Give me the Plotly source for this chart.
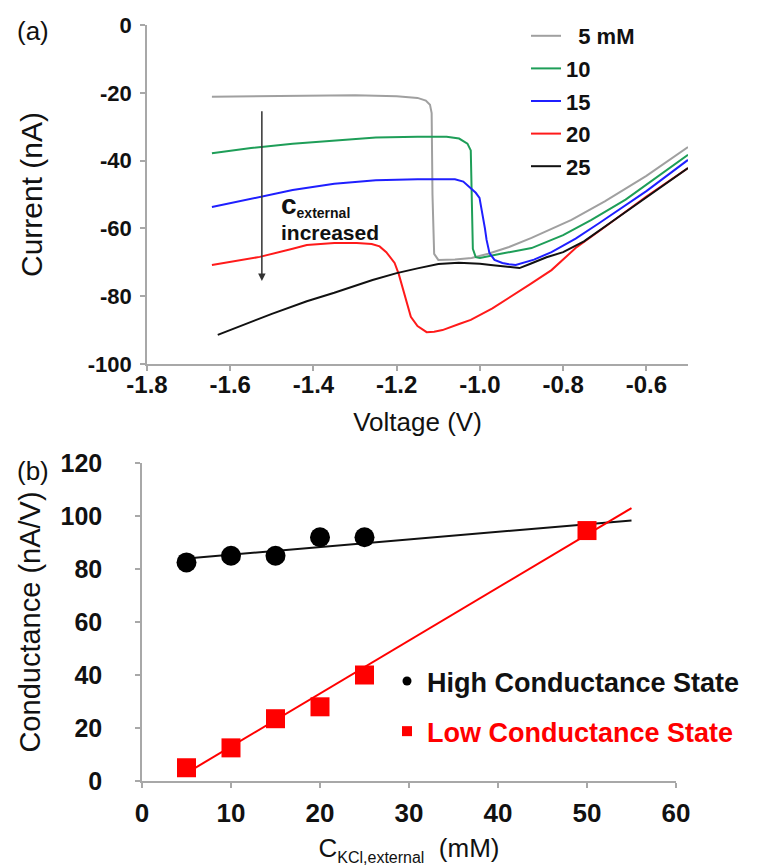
import plotly.graph_objects as go

# ---------------- Panel (a): I-V curves ----------------
V_5 = [-1.644, -1.5, -1.4, -1.3, -1.2, -1.15, -1.13, -1.12, -1.116, -1.114, -1.11, -1.10,
       -1.06, -1.02, -0.98, -0.93, -0.876, -0.78, -0.70, -0.60, -0.50]
I_5 = [-21.2, -21.0, -20.8, -20.7, -21.0, -21.5, -22.3, -23.5, -26.0, -50.0, -67.5, -69.3,
       -69.2, -68.7, -67.5, -65.5, -62.8, -57.5, -52.0, -44.5, -36.0]

V_10 = [-1.644, -1.55, -1.45, -1.35, -1.25, -1.15, -1.08, -1.05, -1.03, -1.022, -1.019, -1.017,
        -1.01, -1.0, -0.95, -0.876, -0.80, -0.732, -0.65, -0.5]
I_10 = [-37.8, -36.3, -35.0, -34.0, -33.2, -33.0, -33.0, -33.5, -35.0, -37.0, -50.0, -66.0,
        -68.5, -68.7, -67.5, -65.8, -62.0, -57.5, -51.5, -38.3]

V_15 = [-1.644, -1.55, -1.45, -1.35, -1.25, -1.15, -1.06, -1.04, -1.025, -1.01, -1.001, -0.994,
        -0.988, -0.984, -0.977, -0.965, -0.946, -0.93, -0.914, -0.87, -0.828, -0.77, -0.713,
        -0.6, -0.5]
I_15 = [-53.7, -51.2, -48.7, -46.8, -45.8, -45.5, -45.5, -46.2, -47.8, -49.5, -51.0, -55.5,
        -60.0, -63.4, -67.3, -69.3, -70.2, -70.6, -70.8, -69.2, -67.0, -63.0, -58.4,
        -49.0, -39.8]

V_20 = [-1.644, -1.6, -1.529, -1.45, -1.416, -1.35, -1.296, -1.26, -1.241, -1.225, -1.205,
        -1.195, -1.186, -1.176, -1.166, -1.15, -1.128, -1.11, -1.09, -1.05, -1.022, -0.97,
        -0.926, -0.88, -0.828, -0.77, -0.7, -0.6, -0.5]
I_20 = [-70.8, -69.8, -68.4, -66.0, -64.9, -64.3, -64.3, -64.6, -65.3, -67.0, -70.2,
        -73.5, -77.3, -82.0, -86.1, -88.8, -90.6, -90.5, -90.0, -88.2, -87.0, -83.6,
        -80.2, -76.5, -72.3, -65.8, -59.6, -50.6, -42.2]

V_25 = [-1.63, -1.55, -1.5, -1.416, -1.35, -1.258, -1.2, -1.15, -1.128, -1.1, -1.051, -1.0,
        -0.974, -0.94, -0.905, -0.88, -0.84, -0.8, -0.75, -0.684, -0.6, -0.5]
I_25 = [-91.4, -87.5, -85.2, -81.5, -79.0, -75.2, -73.2, -71.8, -71.2, -70.5, -70.1, -70.4,
        -70.8, -71.2, -71.7, -70.5, -68.5, -67.0, -63.8, -58.1, -50.8, -42.2]

CURVE_NAMES = ["\u20075 mM", "10", "15", "20", "25"]
CURVE_COLORS = ["#a0a0a0", "#1e9e58", "#1f1fff", "#ff1a1a", "#111111"]

V_TICKS = [-1.8, -1.6, -1.4, -1.2, -1.0, -0.8, -0.6]
V_TICK_TEXT = ["-1.8", "-1.6", "-1.4", "-1.2", "-1.0", "-0.8", "-0.6"]
I_TICKS = [0, -20, -40, -60, -80, -100]
I_TICK_TEXT = ["0", "-20", "-40", "-60", "-80", "-100"]

# arrow "c_external increased"
ARROW_V = -1.524
ARROW_FROM = -25.0
ARROW_TO = -75.5

# ---------------- Panel (b): conductance ----------------
C_HIGH = [5, 10, 15, 20, 25]
G_HIGH = [82.5, 85.0, 85.0, 92.0, 92.0]
C_LOW = [5, 10, 15, 20, 25, 50]
G_LOW = [5.0, 12.5, 23.5, 28.0, 40.0, 94.5]
FIT_C = [5, 55]
FIT_HIGH = [84.0, 98.3]
FIT_LOW = [3.0, 103.0]

FONT = "Liberation Sans, Arial, sans-serif"
AXCOL = "#a8a8a8"

fig = go.Figure()

for v, i, n, c in zip([V_5, V_10, V_15, V_20, V_25], [I_5, I_10, I_15, I_20, I_25],
                      CURVE_NAMES, CURVE_COLORS):
    fig.add_trace(go.Scatter(x=v, y=i, mode="lines", name=n, legend="legend",
                             legendgroup=n, line=dict(color=c, width=2),
                             xaxis="x", yaxis="y"))

# fit lines
fig.add_trace(go.Scatter(x=FIT_C, y=FIT_HIGH, mode="lines", line=dict(color="#111111", width=2),
                         showlegend=False, xaxis="x2", yaxis="y2"))
fig.add_trace(go.Scatter(x=FIT_C, y=FIT_LOW, mode="lines", line=dict(color="#ff0000", width=2),
                         showlegend=False, xaxis="x2", yaxis="y2"))
# markers
fig.add_trace(go.Scatter(x=C_HIGH, y=G_HIGH, mode="markers",
                         marker=dict(symbol="circle", size=20, color="#000000"),
                         showlegend=False, xaxis="x2", yaxis="y2"))
fig.add_trace(go.Scatter(x=C_LOW, y=G_LOW, mode="markers",
                         marker=dict(symbol="square", size=19, color="#ff0000"),
                         showlegend=False, xaxis="x2", yaxis="y2"))
# legend entries for panel (b)
fig.add_trace(go.Scatter(x=[None], y=[None], mode="markers", name="High Conductance State",
                         marker=dict(symbol="circle", size=9, color="#000000"),
                         legend="legend2", legendgroup="high", xaxis="x2", yaxis="y2"))
fig.add_trace(go.Scatter(x=[None], y=[None], mode="markers",
                         name="<span style='color:#ff0000'>Low Conductance State</span>",
                         marker=dict(symbol="square", size=10, color="#ff0000"),
                         legend="legend2", legendgroup="low", xaxis="x2", yaxis="y2"))

axis_common = dict(showgrid=False, zeroline=False, showline=True, linecolor=AXCOL, linewidth=1.5,
                   ticks="outside", ticklen=5, tickcolor=AXCOL, tickwidth=1.5, automargin=False)

fig.update_layout(
    width=760, height=867,
    margin=dict(l=0, r=0, t=0, b=0, autoexpand=False),
    paper_bgcolor="white", plot_bgcolor="white",
    font=dict(family=FONT, color="#111111"),
    xaxis=dict(domain=[147 / 760, 688 / 760], anchor="y", range=[-1.8, -0.5],
               tickvals=V_TICKS, ticktext=V_TICK_TEXT,
               tickfont=dict(size=24, weight="bold"), ticklabelstandoff=-7,
               title=dict(text="Voltage (V)", font=dict(size=26), standoff=16),
               **axis_common),
    yaxis=dict(domain=[1 - 364 / 867, 1 - 25 / 867], anchor="x", range=[-100, 0],
               tickvals=I_TICKS, ticktext=I_TICK_TEXT,
               tickfont=dict(size=22, weight="bold"), ticklabelstandoff=4,
               title=dict(text="Current (nA)", font=dict(size=30), standoff=36),
               **axis_common),
    xaxis2=dict(domain=[142 / 760, 676 / 760], anchor="y2", range=[0, 60], dtick=10,
                tickfont=dict(size=26, weight="bold"), ticklabelstandoff=3,
                title=dict(text="C<sub><span style='font-size:16px'>KCl,external</span></sub>  (mM)",
                           font=dict(size=26), standoff=12),
                **axis_common),
    yaxis2=dict(domain=[1 - 781 / 867, 1 - 463 / 867], anchor="x2", range=[0, 120], dtick=20,
                tickfont=dict(size=25, weight="bold"), ticklabelstandoff=28,
                title=dict(text="Conductance (nA/V)", font=dict(size=29), standoff=11),
                **axis_common),
    legend=dict(x=526 / 760, y=1 - 15 / 867, xanchor="left", yanchor="top",
                font=dict(size=22, weight="bold", color="#111111"),
                traceorder="grouped", tracegroupgap=1, bgcolor="rgba(0,0,0,0)",
                itemwidth=30),
    legend2=dict(x=387 / 760, y=1 - 657 / 867, xanchor="left", yanchor="top",
                 font=dict(size=27, weight="bold", color="#111111"),
                 traceorder="grouped", tracegroupgap=12, bgcolor="rgba(0,0,0,0)",
                 itemwidth=30),
)

# arrow
fig.add_annotation(x=ARROW_V, y=ARROW_TO, ax=ARROW_V, ay=ARROW_FROM, xref="x", yref="y",
                   axref="x", ayref="y", text="", showarrow=True, arrowhead=2, arrowsize=1,
                   arrowwidth=1.5, arrowcolor="#333333")
fig.add_annotation(x=-1.482, y=-53.0, xref="x", yref="y", xanchor="left", yanchor="middle",
                   showarrow=False, align="left",
                   text="<b><span style='font-size:28px'>c</span><sub>external</sub></b>",
                   font=dict(size=20, color="#111111"))
fig.add_annotation(x=-1.482, y=-61.2, xref="x", yref="y", xanchor="left", yanchor="middle",
                   showarrow=False, text="<b>increased</b>", font=dict(size=21, color="#111111"))

# panel labels
fig.add_annotation(x=33 / 760, y=1 - 31 / 867, xref="paper", yref="paper", showarrow=False,
                   xanchor="center", yanchor="middle",
                   text="(a)", font=dict(size=26, color="#111111"))
fig.add_annotation(x=33 / 760, y=1 - 471 / 867, xref="paper", yref="paper", showarrow=False,
                   xanchor="center", yanchor="middle",
                   text="(b)", font=dict(size=26, color="#111111"))

fig.write_html("out.html")
